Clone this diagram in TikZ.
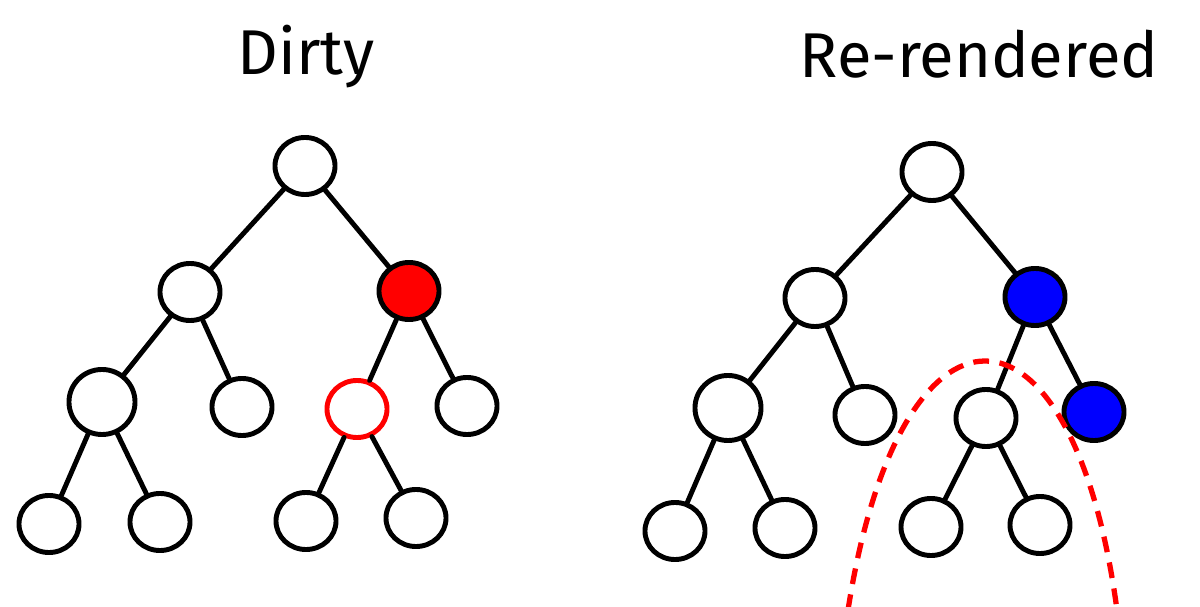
\documentclass[tikz,border=0pt]{standalone}
\usepackage{fontspec}
\setmainfont{Fira Sans}
\usetikzlibrary{shapes.geometric}
\begin{document}
\begin{tikzpicture}[
    x=0.01cm, y=-0.01cm,
    vert/.style={ellipse, draw, line width=1.4pt, fill=white, inner sep=0pt, minimum width=0.6cm, minimum height=0.57cm},
    big/.style={minimum width=0.66cm, minimum height=0.65cm},
    edge/.style={line width=1.4pt, line cap=round},
    title/.style={anchor=base, font=\fontsize{18}{20}\selectfont},
    region/.style={red, line width=1.5pt, dash pattern=on 4.5pt off 3pt}
]
    \useasboundingbox (0,0) rectangle (1200,607);

    % dirty tree
    \node[title] (dtitle) at (306,75) {Dirty};
    \node[vert] (d-root) at (305,166) {};
    \node[vert] (d-l) at (190,292) {};
    \node[vert, fill=red] (d-r) at (409,291) {};
    \node[vert, big] (d-ll) at (102,402) {};
    \node[vert] (d-lr) at (242,407) {};
    \node[vert, draw=red] (d-rl) at (357,409) {};
    \node[vert] (d-rr) at (467,406) {};
    \node[vert] (d-lll) at (49,524) {};
    \node[vert] (d-llr) at (160,522) {};
    \node[vert] (d-rll) at (306,521) {};
    \node[vert] (d-rlr) at (416,518) {};

    \draw[edge] (d-root) -- (d-l);
    \draw[edge] (d-root) -- (d-r);
    \draw[edge] (d-l) -- (d-ll);
    \draw[edge] (d-l) -- (d-lr);
    \draw[edge] (d-r) -- (d-rl);
    \draw[edge] (d-r) -- (d-rr);
    \draw[edge] (d-ll) -- (d-lll);
    \draw[edge] (d-ll) -- (d-llr);
    \draw[edge] (d-rl) -- (d-rll);
    \draw[edge] (d-rl) -- (d-rlr);

    % re-rendered tree
    \node[title] (rtitle) at (979,78) {Re-rendered};
    \node[vert] (r-root) at (932,172) {};
    \node[vert] (r-l) at (815,298) {};
    \node[vert, fill=blue] (r-r) at (1035,297) {};
    \node[vert, big] (r-ll) at (728,408) {};
    \node[vert] (r-lr) at (865,415) {};
    \node[vert] (r-rl) at (986,418) {};
    \node[vert, fill=blue] (r-rr) at (1094,412) {};
    \node[vert] (r-lll) at (675,531) {};
    \node[vert] (r-llr) at (785,528) {};
    \node[vert] (r-rll) at (931,527) {};
    \node[vert] (r-rlr) at (1040,525) {};

    \draw[edge] (r-root) -- (r-l);
    \draw[edge] (r-root) -- (r-r);
    \draw[edge] (r-l) -- (r-ll);
    \draw[edge] (r-l) -- (r-lr);
    \draw[edge] (r-r) -- (r-rl);
    \draw[edge] (r-r) -- (r-rr);
    \draw[edge] (r-ll) -- (r-lll);
    \draw[edge] (r-ll) -- (r-llr);
    \draw[edge] (r-rl) -- (r-rll);
    \draw[edge] (r-rl) -- (r-rlr);

    % re-rendered subtree
    \draw[region] (848,610) .. controls (900,278) and (1072,278) .. (1117,610);
\end{tikzpicture}
\end{document}
